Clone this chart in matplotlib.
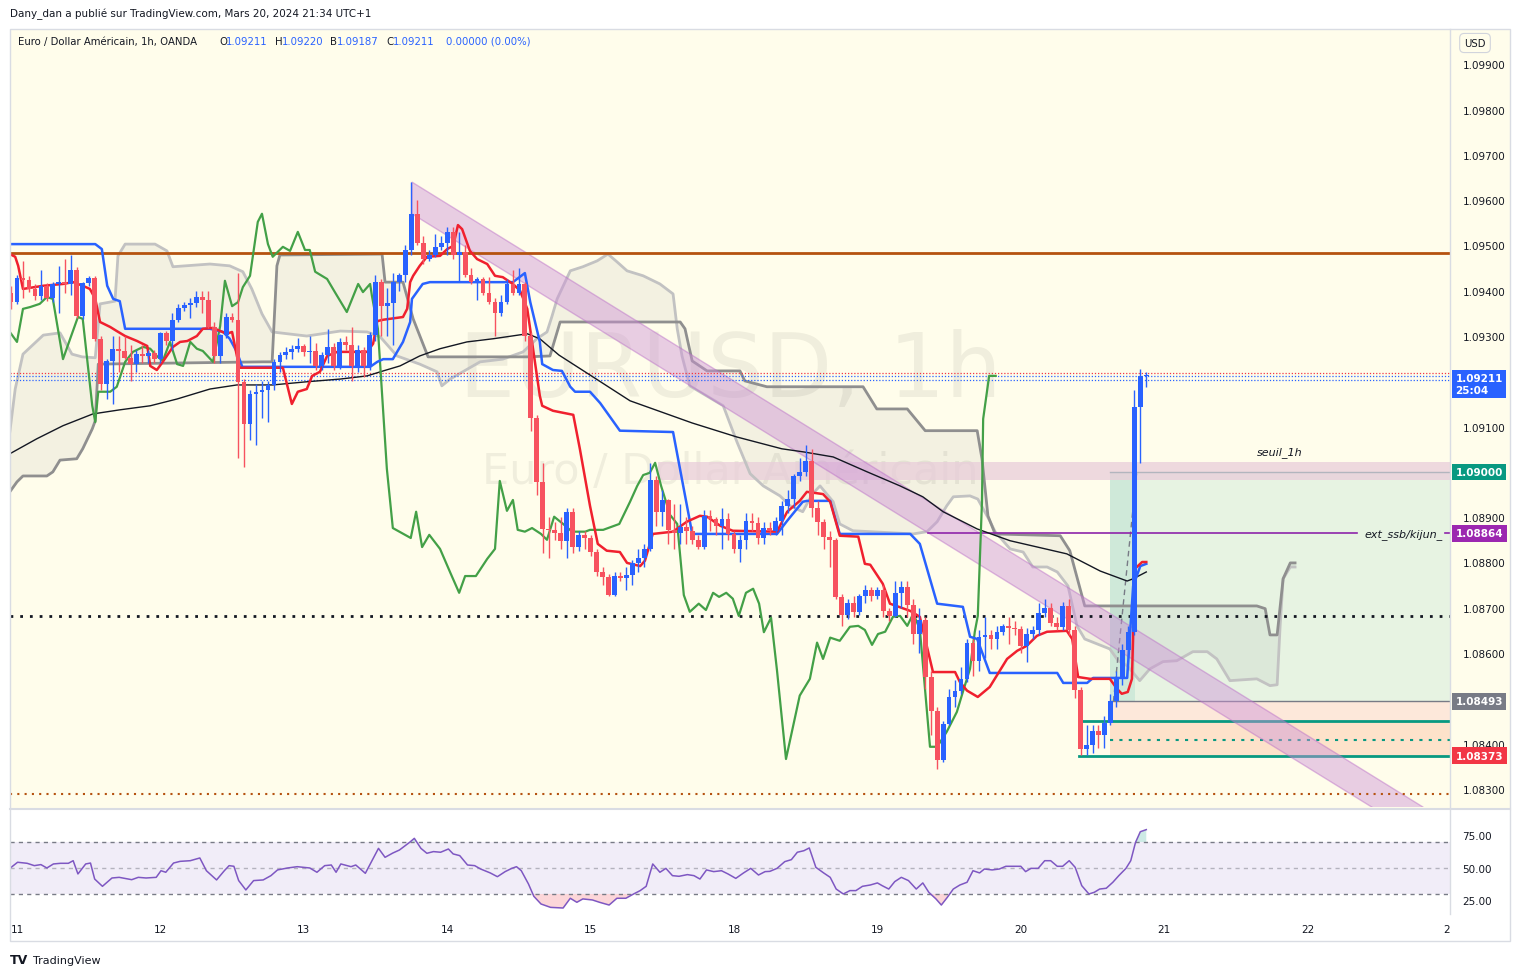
import matplotlib
matplotlib.use('Agg')
import matplotlib.pyplot as plt
import numpy as np
from matplotlib.patches import Rectangle, Polygon
from matplotlib.lines import Line2D

# ---------------- DATA ----------------
bars = list(range(-1, 190))
opens = [1.09395,
 1.09375,1.09428,1.09424,1.09404,1.09388,1.09410,1.09384,1.09415,1.09419,1.09416,
 1.09446,1.09344,1.09417,1.09428,1.09294,1.09194,1.09245,1.09272,1.09266,1.09252,
 1.09238,1.09260,1.09255,1.09262,1.09249,1.09307,1.09290,1.09336,1.09362,1.09368,
 1.09372,1.09386,1.09380,1.09320,1.09256,1.09302,1.09342,1.09336,1.09199,1.09106,
 1.09172,1.09176,1.09180,1.09192,1.09243,1.09258,1.09265,1.09272,1.09278,1.09265,
 1.09268,1.09234,1.09258,1.09275,1.09234,1.09287,1.09280,1.09234,1.09270,1.09234,
 1.09303,1.09419,1.09366,1.09372,1.09419,1.09435,1.09490,1.09570,1.09505,1.09470,
 1.09480,1.09497,1.09505,1.09530,1.09480,1.09485,1.09435,1.09420,1.09425,1.09395,
 1.09375,1.09350,1.09375,1.09415,1.09395,1.09415,1.09300,1.09119,1.08978,1.08874,
 1.08872,1.08866,1.08848,1.08912,1.08834,1.08860,1.08853,1.08823,1.08780,1.08768,
 1.08728,1.08770,1.08765,1.08772,1.08799,1.08810,1.08830,1.08982,1.08912,1.08938,
 1.08872,1.08866,1.08878,1.08870,1.08850,1.08834,1.08903,1.08895,1.08880,1.08895,
 1.08863,1.08830,1.08850,1.08892,1.08888,1.08853,1.08875,1.08870,1.08892,1.08925,
 1.08940,1.08991,1.09000,1.09025,1.08920,1.08890,1.08856,1.08850,1.08724,1.08684,
 1.08710,1.08690,1.08726,1.08740,1.08725,1.08740,1.08693,1.08682,1.08733,1.08745,
 1.08706,1.08642,1.08673,1.08548,1.08473,1.08364,1.08444,1.08503,1.08516,1.08543,
 1.08622,1.08583,1.08636,1.08640,1.08632,1.08647,1.08660,1.08656,1.08652,1.08616,
 1.08642,1.08650,1.08689,1.08700,1.08667,1.08658,1.08704,1.08651,1.08519,1.08388,
 1.08397,1.08428,1.08420,1.08446,1.08494,1.08543,1.08607,1.08647,1.09143,1.09211]
closes = [1.09375,
 1.09428,1.09424,1.09404,1.09388,1.09410,1.09384,1.09415,1.09419,1.09416,1.09446,
 1.09344,1.09417,1.09428,1.09294,1.09194,1.09245,1.09272,1.09266,1.09252,1.09238,
 1.09260,1.09255,1.09262,1.09249,1.09307,1.09290,1.09336,1.09362,1.09368,1.09372,
 1.09386,1.09380,1.09320,1.09256,1.09302,1.09342,1.09336,1.09199,1.09106,1.09172,
 1.09176,1.09180,1.09192,1.09243,1.09258,1.09265,1.09272,1.09278,1.09265,1.09268,
 1.09234,1.09258,1.09275,1.09234,1.09287,1.09280,1.09234,1.09270,1.09234,1.09303,
 1.09419,1.09366,1.09372,1.09419,1.09435,1.09490,1.09570,1.09505,1.09470,1.09480,
 1.09497,1.09505,1.09530,1.09480,1.09485,1.09435,1.09420,1.09425,1.09395,1.09375,
 1.09350,1.09375,1.09415,1.09395,1.09415,1.09300,1.09119,1.08978,1.08874,1.08872,
 1.08866,1.08848,1.08912,1.08834,1.08860,1.08853,1.08823,1.08780,1.08768,1.08728,
 1.08770,1.08765,1.08772,1.08799,1.08810,1.08830,1.08982,1.08912,1.08938,1.08872,
 1.08866,1.08878,1.08870,1.08850,1.08834,1.08903,1.08895,1.08880,1.08895,1.08863,
 1.08830,1.08850,1.08892,1.08888,1.08853,1.08875,1.08870,1.08892,1.08925,1.08940,
 1.08991,1.09000,1.09025,1.08920,1.08890,1.08856,1.08850,1.08724,1.08684,1.08710,
 1.08690,1.08726,1.08740,1.08725,1.08740,1.08693,1.08682,1.08733,1.08745,1.08706,
 1.08642,1.08673,1.08548,1.08473,1.08364,1.08444,1.08503,1.08516,1.08543,1.08622,
 1.08583,1.08636,1.08640,1.08632,1.08647,1.08660,1.08656,1.08652,1.08616,1.08642,
 1.08650,1.08689,1.08700,1.08667,1.08658,1.08704,1.08651,1.08519,1.08388,1.08397,
 1.08428,1.08420,1.08446,1.08494,1.08543,1.08607,1.08647,1.09143,1.09211,1.09211]
highs = [1.09410,
 1.09435,1.09465,1.09432,1.09415,1.09445,1.09418,1.09420,1.09455,1.09470,1.09480,
 1.09452,1.09420,1.09432,1.09432,1.09300,1.09250,1.09300,1.09300,1.09300,1.09280,
 1.09270,1.09280,1.09270,1.09270,1.09310,1.09312,1.09350,1.09370,1.09375,1.09385,
 1.09400,1.09400,1.09400,1.09330,1.09305,1.09350,1.09350,1.09440,1.09205,1.09180,
 1.09195,1.09200,1.09200,1.09250,1.09265,1.09275,1.09280,1.09295,1.09282,1.09300,
 1.09285,1.09265,1.09315,1.09285,1.09295,1.09300,1.09320,1.09280,1.09275,1.09310,
 1.09435,1.09425,1.09405,1.09440,1.09440,1.09500,1.09640,1.09600,1.09520,1.09490,
 1.09525,1.09520,1.09540,1.09540,1.09530,1.09500,1.09450,1.09430,1.09430,1.09430,
 1.09385,1.09390,1.09425,1.09445,1.09450,1.09420,1.09310,1.09125,1.09020,1.08900,
 1.08890,1.08900,1.08920,1.08920,1.08870,1.08870,1.08860,1.08830,1.08790,1.08775,
 1.08780,1.08780,1.08790,1.08805,1.08830,1.08840,1.09020,1.08990,1.08960,1.08940,
 1.08930,1.08930,1.08900,1.08880,1.08860,1.08915,1.08915,1.08900,1.08920,1.08910,
 1.08870,1.08860,1.08910,1.08910,1.08900,1.08890,1.08890,1.08900,1.08935,1.08960,
 1.08995,1.09030,1.09060,1.09050,1.08935,1.08895,1.08870,1.08855,1.08730,1.08720,
 1.08725,1.08730,1.08750,1.08745,1.08745,1.08750,1.08700,1.08760,1.08760,1.08760,
 1.08720,1.08700,1.08680,1.08560,1.08480,1.08450,1.08520,1.08540,1.08570,1.08630,
 1.08630,1.08650,1.08680,1.08650,1.08660,1.08665,1.08680,1.08670,1.08660,1.08655,
 1.08660,1.08710,1.08720,1.08710,1.08680,1.08712,1.08720,1.08660,1.08525,1.08440,
 1.08440,1.08440,1.08460,1.08510,1.08560,1.08620,1.08660,1.09180,1.09228,1.09220]
lows = [1.09360,
 1.09370,1.09385,1.09398,1.09380,1.09380,1.09378,1.09375,1.09350,1.09395,1.09390,
 1.09340,1.09338,1.09410,1.09290,1.09180,1.09160,1.09150,1.09220,1.09250,1.09200,
 1.09220,1.09240,1.09240,1.09240,1.09240,1.09280,1.09270,1.09330,1.09355,1.09340,
 1.09365,1.09350,1.09318,1.09240,1.09240,1.09295,1.09330,1.09030,1.09010,1.09070,
 1.09060,1.09120,1.09110,1.09180,1.09220,1.09250,1.09250,1.09265,1.09255,1.09240,
 1.09225,1.09225,1.09240,1.09225,1.09228,1.09270,1.09200,1.09220,1.09210,1.09225,
 1.09290,1.09300,1.09300,1.09280,1.09400,1.09420,1.09480,1.09500,1.09460,1.09465,
 1.09475,1.09490,1.09480,1.09470,1.09420,1.09430,1.09415,1.09380,1.09390,1.09370,
 1.09300,1.09345,1.09370,1.09390,1.09390,1.09290,1.09090,1.08950,1.08820,1.08810,
 1.08850,1.08830,1.08810,1.08820,1.08825,1.08830,1.08815,1.08770,1.08750,1.08725,
 1.08725,1.08760,1.08740,1.08750,1.08780,1.08790,1.08825,1.08880,1.08880,1.08840,
 1.08830,1.08840,1.08840,1.08840,1.08830,1.08830,1.08870,1.08860,1.08830,1.08850,
 1.08820,1.08800,1.08830,1.08870,1.08840,1.08840,1.08860,1.08860,1.08860,1.08910,
 1.08920,1.08980,1.08990,1.08900,1.08860,1.08830,1.08790,1.08720,1.08660,1.08675,
 1.08680,1.08685,1.08710,1.08715,1.08720,1.08680,1.08670,1.08680,1.08700,1.08680,
 1.08620,1.08600,1.08520,1.08420,1.08345,1.08360,1.08440,1.08480,1.08510,1.08535,
 1.08550,1.08560,1.08590,1.08610,1.08610,1.08640,1.08620,1.08640,1.08600,1.08580,
 1.08630,1.08640,1.08680,1.08660,1.08650,1.08650,1.08640,1.08500,1.08375,1.08375,
 1.08380,1.08390,1.08390,1.08440,1.08480,1.08530,1.08590,1.08640,1.09020,1.09187]

# long moving average (black)
ma_x = [-1.2,3.3,7.7,12.7,17.2,22.3,26.8,32.3,36.8,42.8,48.5,54.1,58.6,61.3,64.1,67.4,70.8,75.3,79.7,85.4,87.5,90.7,96.6,102.6,113.0,120.5,128.0,131.7,136.6,142.3,147.8,151.6,155.0,160.7,166.2,175.7,181.3,185.8,186.8,189]
ma_y = [1.09040,1.09073,1.09102,1.09128,1.09137,1.09146,1.09161,1.09183,1.09192,1.09192,1.09199,1.09205,1.09212,1.09223,1.09234,1.09256,1.09272,1.09287,1.09294,1.09305,1.09294,1.09258,1.09208,1.09157,1.09108,1.09077,1.09051,1.09044,1.09033,1.09000,1.08969,1.08945,1.08912,1.08874,1.08848,1.08819,1.08781,1.08759,1.08764,1.08779]

# kijun (blue)
kijun_x = [-1.2,13.1,14.2,15.1,16.1,17.2,18.1,32.3,34.5,35.6,36.8,37.7,59.1,60.3,61.3,62.9,64.6,65.8,66.1,67.9,69.1,83.0,85.0,85.9,87.5,87.9,89.7,91.2,92.6,93.4,95.9,97.6,98.9,100.9,109.8,112.6,113.0,127.2,128.9,131.5,132.2,136.1,137.7,149.5,151.1,154.0,158.3,159.5,160.7,162.8,174.1,175.1,179.1,180.1,185.8,186.8,188.0,189]
kijun_y = [1.09503,1.09503,1.09492,1.09411,1.09382,1.09377,1.09316,1.09316,1.09309,1.09294,1.09265,1.09232,1.09232,1.09243,1.09249,1.09249,1.09287,1.09331,1.09382,1.09415,1.09419,1.09419,1.09439,1.09375,1.09287,1.09238,1.09225,1.09223,1.09188,1.09177,1.09177,1.09152,1.09128,1.09091,1.09088,1.08892,1.08863,1.08863,1.08892,1.08934,1.08936,1.08936,1.08863,1.08863,1.08841,1.08709,1.08702,1.08636,1.08631,1.08556,1.08556,1.08534,1.08534,1.08545,1.08545,1.08748,1.08792,1.08797]

# tenkan (red)
tenkan_x = [-1.2,-0.3,0.2,1.0,4.4,7.7,9.4,11.0,12.2,13.1,13.9,15.6,16.7,18.1,20.1,21.8,22.3,23.4,24.4,26.1,27.3,28.5,30.1,31.1,32.8,35.1,36.0,36.8,37.3,44.5,46.0,47.0,48.5,49.4,50.7,51.9,53.6,58.6,59.6,60.3,61.3,64.6,65.3,65.8,66.3,67.4,68.6,70.8,72.0,73.0,73.8,74.5,75.8,77.0,78.7,80.0,81.3,83.0,84.2,85.4,86.2,87.5,87.9,89.7,93.1,94.2,95.9,97.2,98.7,100.9,102.1,104.3,105.1,106.4,109.8,112.1,114.3,115.5,117.7,119.8,127.2,128.9,131.0,132.2,134.9,136.1,137.7,140.8,141.9,142.8,144.9,146.1,149.5,151.1,153.3,157.0,157.8,159.0,160.8,162.8,165.7,167.4,169.0,170.7,172.4,175.7,176.6,177.6,179.6,182.9,184.1,184.9,185.9,186.6,187.1,188.3,189]
tenkan_y = [1.09481,1.09475,1.09455,1.09404,1.09411,1.09415,1.09419,1.09411,1.09404,1.09382,1.09331,1.09320,1.09311,1.09300,1.09289,1.09278,1.09234,1.09225,1.09243,1.09276,1.09287,1.09289,1.09300,1.09316,1.09318,1.09305,1.09309,1.09256,1.09230,1.09230,1.09150,1.09177,1.09183,1.09212,1.09221,1.09256,1.09265,1.09265,1.09283,1.09333,1.09336,1.09342,1.09360,1.09419,1.09433,1.09455,1.09475,1.09477,1.09492,1.09499,1.09545,1.09536,1.09488,1.09470,1.09459,1.09433,1.09430,1.09415,1.09400,1.09360,1.09287,1.09168,1.09146,1.09135,1.09126,1.09051,1.08925,1.08841,1.08826,1.08823,1.08799,1.08792,1.08804,1.08863,1.08868,1.08890,1.08903,1.08901,1.08881,1.08870,1.08868,1.08912,1.08936,1.08956,1.08951,1.08934,1.08859,1.08857,1.08797,1.08795,1.08753,1.08709,1.08693,1.08680,1.08558,1.08558,1.08536,1.08517,1.08503,1.08525,1.08587,1.08605,1.08616,1.08638,1.08647,1.08649,1.08631,1.08547,1.08543,1.08543,1.08521,1.08510,1.08514,1.08543,1.08786,1.08801,1.08801]

# chikou (green)
chikou_x = [-1.2,0,1.0,2.2,3.8,5.0,6.0,7.7,8.9,10.2,11.0,12.6,13.1,13.6,15.6,16.7,18.1,19.4,21.1,22.3,23.4,24.4,25.6,26.8,27.8,29.0,30.1,31.1,32.8,34.0,34.8,36.0,37.0,37.8,39.0,40.3,41.0,42.0,42.8,44.5,45.7,47.0,48.2,49.0,49.9,51.9,53.2,55.2,57.1,57.9,59.1,59.4,60.4,61.9,62.9,65.9,66.8,67.8,69.0,70.8,72.6,74.0,75.0,76.8,78.7,80.0,80.8,82.0,83.0,83.8,85.0,86.2,87.7,88.7,89.9,91.4,92.9,95.1,95.9,98.1,100.8,102.6,103.8,104.8,105.9,106.8,107.8,109.3,110.5,111.6,112.6,114.1,115.3,116.5,117.5,118.7,119.8,120.8,122.0,123.2,124.2,125.0,126.2,127.2,128.7,131.0,132.7,133.9,134.9,136.1,137.7,139.4,140.8,141.9,143.1,144.1,145.3,146.6,147.8,149.0,150.0,151.1,152.8,154.0,155.6,157.3,158.3,159.5,160.3,160.8,161.2,161.5,161.7,162.7,163.8]
chikou_y = [1.09309,1.09287,1.09360,1.09364,1.09371,1.09386,1.09382,1.09249,1.09294,1.09342,1.09338,1.09146,1.09110,1.09177,1.09177,1.09188,1.09243,1.09265,1.09276,1.09272,1.09256,1.09245,1.09287,1.09238,1.09234,1.09287,1.09272,1.09267,1.09243,1.09322,1.09422,1.09366,1.09375,1.09408,1.09433,1.09552,1.09570,1.09503,1.09475,1.09497,1.09488,1.09530,1.09490,1.09490,1.09442,1.09426,1.09397,1.09353,1.09415,1.09397,1.09415,1.09389,1.09316,1.09007,1.08876,1.08854,1.08912,1.08834,1.08861,1.08830,1.08775,1.08733,1.08770,1.08770,1.08808,1.08830,1.08980,1.08914,1.08938,1.08872,1.08868,1.08876,1.08863,1.08850,1.08901,1.08885,1.08868,1.08868,1.08872,1.08872,1.08885,1.08934,1.08969,1.08993,1.08998,1.09020,1.08969,1.08905,1.08885,1.08728,1.08691,1.08709,1.08695,1.08733,1.08724,1.08733,1.08720,1.08682,1.08733,1.08742,1.08709,1.08646,1.08678,1.08561,1.08366,1.08506,1.08543,1.08623,1.08587,1.08634,1.08627,1.08658,1.08660,1.08651,1.08618,1.08642,1.08647,1.08680,1.08682,1.08660,1.08687,1.08653,1.08393,1.08393,1.08426,1.08470,1.08514,1.08565,1.08647,1.08682,1.08823,1.08934,1.09117,1.09212,1.09212]

# senkou span A (light grey)
spanA_x = [-1.2,-0.3,1.0,4.4,7.2,9.2,10.9,13.1,13.9,16.4,16.9,18.1,23.1,25.1,26.1,32.3,35.6,37.8,39.3,41.0,42.7,48.5,54.1,58.6,60.8,63.6,67.4,70.3,71.1,72.5,77.5,81.3,84.7,87.0,88.7,89.5,90.4,92.6,94.7,97.1,98.9,100.4,102.1,104.8,107.6,109.8,110.5,111.3,112.6,118.2,120.5,122.7,124.9,127.7,129.4,131.5,133.1,134.4,136.6,137.7,139.9,150.0,152.3,154.0,155.6,156.7,159.5,160.8,162.8,163.7,166.2,168.4,170.0,172.4,174.1,175.9,177.4,178.7,182.9,184.3,185.8,187.9,189.6,191.8,194.1,196.8,199.2,200.8,203.0,207.5,209.7,210.9,211.4,211.9,213.1,213.9]
spanA_y = [1.09088,1.09183,1.09260,1.09302,1.09307,1.09260,1.09254,1.09252,1.09371,1.09377,1.09477,1.09503,1.09503,1.09488,1.09453,1.09459,1.09455,1.09442,1.09404,1.09349,1.09309,1.09300,1.09311,1.09309,1.09298,1.09256,1.09238,1.09221,1.09190,1.09205,1.09243,1.09249,1.09265,1.09294,1.09309,1.09342,1.09382,1.09444,1.09453,1.09466,1.09481,1.09464,1.09444,1.09433,1.09415,1.09393,1.09316,1.09256,1.09190,1.09146,1.09066,1.08996,1.08969,1.08947,1.08925,1.08912,1.08951,1.08969,1.08934,1.08885,1.08870,1.08863,1.08868,1.08890,1.08925,1.08945,1.08947,1.08940,1.08892,1.08868,1.08830,1.08823,1.08790,1.08790,1.08779,1.08748,1.08660,1.08631,1.08609,1.08583,1.08572,1.08539,1.08565,1.08581,1.08583,1.08603,1.08603,1.08587,1.08539,1.08543,1.08528,1.08530,1.08660,1.08764,1.08790,1.08790]

# senkou span B (dark grey)
spanB_x = [-1.2,0,1.0,5.0,6.0,7.2,10.0,11.0,12.6,13.1,13.6,41.2,42.7,43.5,44.0,61.1,61.6,64.6,66.3,68.8,85.4,89.2,90.9,111.0,111.8,113.0,115.5,121.0,121.8,125.5,141.6,143.9,149.0,152.0,160.7,161.5,162.5,163.7,174.6,176.2,178.7,207.5,208.9,209.7,210.9,211.9,213.1,213.9]
spanB_y = [1.08956,1.08978,1.08991,1.08991,1.09000,1.09026,1.09029,1.09051,1.09095,1.09113,1.09238,1.09243,1.09243,1.09455,1.09479,1.09481,1.09419,1.09419,1.09338,1.09254,1.09254,1.09256,1.09331,1.09331,1.09316,1.09245,1.09223,1.09223,1.09201,1.09188,1.09188,1.09139,1.09139,1.09091,1.09091,1.09029,1.08903,1.08863,1.08859,1.08826,1.08704,1.08704,1.08698,1.08640,1.08640,1.08764,1.08799,1.08799]

# RSI
rsi_x = [-1.2,0.1,1.7,2.9,4.0,5.0,6.1,7.3,8.6,9.4,10.2,11.5,12.3,13.0,14.3,15.9,17.1,19.2,20.3,21.6,23.3,24.1,24.9,26.2,27.3,29.0,30.6,31.7,33.4,34.7,35.5,36.3,37.1,38.3,39.6,41.2,42.5,43.6,45.3,46.9,49.0,50.2,51.5,52.6,53.4,54.2,55.9,56.7,58.3,60.5,61.6,62.9,64.0,65.7,66.5,67.6,68.6,69.7,70.9,72.2,73.0,74.1,75.4,76.6,77.6,79.2,80.4,81.7,82.8,83.6,84.4,85.6,86.5,87.7,89.3,91.4,92.6,93.7,94.7,96.3,97.5,99.1,100.4,101.9,103.2,104.3,105.3,106.4,107.6,108.6,109.7,110.8,112.2,113.3,114.3,115.4,116.6,117.9,119.0,120.3,121.6,122.8,124.1,125.2,126.0,127.2,128.5,129.6,130.6,131.7,132.6,133.7,135.0,136.1,137.1,138.3,139.4,140.4,141.5,142.8,144.0,144.8,145.9,146.9,148.0,149.2,150.5,151.6,152.6,153.8,154.7,155.7,156.7,157.8,159.0,160.0,161.1,161.9,163.2,164.4,165.5,166.8,168.0,168.8,169.7,170.9,172.0,173.0,174.1,175.0,176.1,177.1,178.2,179.4,180.3,181.2,182.3,183.4,184.4,185.6,186.4,187.2,188.0,189]
rsi_y = [49.7,54.4,53.6,51.8,52.6,50.0,53.1,53.6,53.6,55.6,45.4,53.1,53.8,41.5,35.9,42.3,42.8,41.0,42.8,42.3,42.8,47.9,46.7,53.8,55.1,55.6,57.7,47.9,40.8,47.9,51.8,51.3,40.3,33.1,40.3,40.8,44.1,48.5,50.0,51.0,50.0,46.7,51.8,52.3,46.7,53.1,51.0,52.3,45.9,65.1,58.2,61.5,63.8,69.7,72.8,65.1,61.3,62.6,62.1,64.6,60.8,59.5,52.3,51.8,49.2,46.2,43.3,47.2,49.7,51.0,47.9,37.7,28.2,22.3,19.7,19.2,26.7,23.6,26.2,25.4,23.6,21.5,26.7,26.7,30.0,32.6,35.9,53.1,46.7,49.7,44.1,43.6,44.9,44.1,41.5,48.5,47.2,47.9,45.4,42.0,46.2,49.7,44.6,47.2,47.4,49.7,54.9,56.4,62.1,63.3,65.4,50.5,46.2,42.8,33.8,30.0,32.6,32.6,35.9,36.9,38.5,36.4,33.8,39.5,42.8,40.3,33.8,38.5,31.3,26.2,21.5,27.4,33.8,36.9,39.0,47.9,46.2,49.2,48.5,49.2,51.3,51.3,51.3,47.2,49.7,49.7,55.6,55.6,51.3,51.3,55.6,50.5,36.4,30.0,31.3,33.8,34.4,39.0,44.1,49.7,55.6,69.7,77.9,79.5]

# drawings / levels
channel_x = [66.1, 235.3]
channel_top = [1.09640, 1.08260]
channel_bot = [1.09570, 1.08190]
level_resistance = 1.09483
level_dotted_black = 1.08682
level_dotted_brown = 1.08289
seuil_low, seuil_high, seuil_start = 1.08982, 1.09022, 107.3
ext_level, ext_start = 1.08864, 152.5
pos_start, pos_shade_end = 182.9, 187.1
pos_target, pos_entry, pos_stop = 1.09000, 1.08493, 1.08373
zone_top, zone_mid = 1.08450, 1.08408
last_price, last_high, last_low = 1.09211, 1.09218, 1.09203

price_ticks = [1.099, 1.098, 1.097, 1.096, 1.095, 1.094, 1.093, 1.091, 1.089, 1.088, 1.087, 1.086, 1.084, 1.083]
day_pos = [0, 24, 48, 72, 96, 120, 144, 168, 192, 216, 239.3]
day_labels = ['11', '12', '13', '14', '15', '18', '19', '20', '21', '22', '2']

# ---------------- FIGURE ----------------
W, H = 1521, 979
fig = plt.figure(figsize=(W / 100, H / 100), dpi=100)
fig.patch.set_facecolor('white')
BG = '#fffdeb'
TXT = '#131722'

def fr(x0, y0, x1, y1):
    return (x0 / W, 1 - y1 / H), (x1 - x0) / W, (y1 - y0) / H

xy, w, h = fr(10, 30, 1510, 810)
fig.add_artist(Rectangle(xy, w, h, transform=fig.transFigure, fc=BG, ec='none', zorder=0))

ax = fig.add_axes([10 / W, 1 - 808 / H, 1440 / W, 778 / H])
ax2 = fig.add_axes([10 / W, 1 - 915 / H, 1440 / W, 104 / H])
ax.set_facecolor(BG)
ax2.set_facecolor('white')
for a in (ax, ax2):
    for s in a.spines.values():
        s.set_visible(False)
    a.set_xlim(-1.17, 239.83)
ax.set_ylim(1.08260, 1.09978)
ax2.set_ylim(14.6, 94.6)

# frame lines
fig.add_artist(Rectangle((10 / W, 1 - 942 / H), 1500 / W, 912 / H, transform=fig.transFigure,
                         fill=False, ec='#d9dce3', lw=1, zorder=10))
fig.add_artist(Line2D([1450 / W, 1450 / W], [1 - 30 / H, 1 - 915 / H], transform=fig.transFigure,
                      color='#d9dce3', lw=1, zorder=10))
fig.add_artist(Line2D([10 / W, 1510 / W], [1 - 810 / H, 1 - 810 / H], transform=fig.transFigure,
                      color='#d9dce3', lw=1.5, zorder=10))

# cloud
grid = np.linspace(-1.2, 213.9, 1500)
a_i = np.interp(grid, spanA_x, spanA_y)
b_i = np.interp(grid, spanB_x, spanB_y)
ax.fill_between(grid, a_i, b_i, color='#9e9e9e', alpha=0.12, lw=0, zorder=1)
ax.plot(spanA_x, spanA_y, color='#c2c2c2', lw=2, zorder=2)
ax.plot(spanB_x, spanB_y, color='#8f8f8f', lw=2, zorder=2)

# position tool
ax.axhspan(seuil_low, seuil_high, xmin=(seuil_start + 1.17) / 241, xmax=1, color='#e9cdda', alpha=0.75, lw=0, zorder=1.5)
ax.fill_between([pos_start, 245], pos_entry, pos_target, color='#26a69a', alpha=0.11, lw=0, zorder=1.2)
ax.fill_between([pos_start, pos_shade_end], pos_entry, pos_target, color='#26a69a', alpha=0.12, lw=0, zorder=1.2)
ax.fill_between([pos_start, 245], pos_stop, pos_entry, color='#f23645', alpha=0.10, lw=0, zorder=1.2)
ax.fill_between([pos_start, 245], pos_stop, zone_top, color='#ff9800', alpha=0.07, lw=0, zorder=1.2)
ax.plot([pos_start, 245], [pos_entry, pos_entry], color='#787b86', lw=1, zorder=2)
ax.plot([pos_start, 245], [pos_target, pos_target], color='#b2b5be', lw=1, zorder=2)
ax.plot([pos_start + 0.6, pos_shade_end + 0.3], [pos_entry, pos_target], color='#787b86', lw=1, ls=(0, (4, 3)), zorder=3)
ax.plot([178.2, 245], [zone_top, zone_top], color='#089981', lw=2, zorder=3)
ax.plot([177.7, 245], [pos_stop, pos_stop], color='#089981', lw=2, zorder=3)
ax.plot([pos_start, 245], [zone_mid, zone_mid], color='#089981', lw=1.5, ls=(0, (1.5, 3)), zorder=3)

# channel
ax.add_patch(Polygon([(channel_x[0], channel_top[0]), (channel_x[1], channel_top[1]),
                      (channel_x[1], channel_bot[1]), (channel_x[0], channel_bot[0])],
                     closed=True, fc='#ce93d8', alpha=0.45, ec='#b86bc7', lw=1, zorder=3))

# horizontal levels
ax.axhline(level_resistance, color='#b5520f', lw=2, zorder=3)
ax.axhline(level_dotted_black, color='#131722', lw=2, ls=(0, (1, 2.5)), zorder=3)
ax.axhline(level_dotted_brown, color='#b5520f', lw=1.5, ls=(0, (1, 2.5)), zorder=3)
ax.axhline(last_high, color='#f23645', lw=0.9, ls=(0, (1, 1.5)), zorder=3)
ax.axhline(last_price, color='#2962ff', lw=0.9, ls=(0, (1, 1.5)), zorder=3)
ax.axhline(last_low, color='#2962ff', lw=0.9, ls=(0, (1, 1.5)), zorder=3)
ax.plot([ext_start, 224.3], [ext_level, ext_level], color='#8e24aa', lw=1.2, zorder=3)
ax.plot([239.0, 240], [ext_level, ext_level], color='#8e24aa', lw=1.2, zorder=3)

# watermark
ax.text(0.5, 0.560, 'EURUSD, 1h', transform=ax.transAxes, ha='center', va='center',
        fontsize=64, color='#000000', alpha=0.06, zorder=1)
ax.text(0.5, 0.432, 'Euro / Dollar Américain', transform=ax.transAxes, ha='center', va='center',
        fontsize=31, color='#000000', alpha=0.06, zorder=1)

# indicator lines
ax.plot(ma_x, ma_y, color='#131722', lw=1, zorder=4)
ax.plot(chikou_x, chikou_y, color='#43a047', lw=1.6, zorder=4)
ax.plot(kijun_x, kijun_y, color='#2962ff', lw=1.8, zorder=4)
ax.plot(tenkan_x, tenkan_y, color='#f0202e', lw=1.8, zorder=4)

# candles
bx = np.array(bars)
o = np.array(opens); c = np.array(closes); hi = np.array(highs); lo = np.array(lows)
up = c >= o
cols = np.where(up, '#2962ff', '#f7525f')
ax.vlines(bx, lo, hi, colors=cols, lw=1, zorder=6)
ax.bar(bx, np.maximum(np.abs(c - o), 0.00002), bottom=np.minimum(o, c), width=0.8,
       color=cols, lw=0, zorder=7)

# texts inside chart
ax.text(211.4, 1.09046, 'seuil_1h', style='italic', fontsize=8, color=TXT, ha='center', va='center', zorder=8)
ax.text(238.6, ext_level, 'ext_ssb/kijun_', style='italic', fontsize=8, color=TXT, ha='right', va='center', zorder=8)

# price axis
ax.yaxis.tick_right()
ax.set_yticks(price_ticks)
ax.set_yticklabels([f'{t:.5f}' for t in price_ticks])
ax.tick_params(axis='y', length=0, pad=9, labelsize=7.5, labelcolor=TXT)
ax.set_xticks([])

def tag(price, text, fc):
    ax.annotate(text, xy=(1, price), xycoords=ax.get_yaxis_transform(), xytext=(4, 0),
                textcoords='offset points', ha='left', va='center', fontsize=7.5,
                color='white', fontweight='bold', linespacing=1.15, annotation_clip=False,
                bbox=dict(boxstyle='square,pad=0.32', fc=fc, ec='none'), zorder=20)

tag(1.09194, '1.09211\n25:04', '#2962ff')
tag(pos_target, '1.09000', '#089981')
tag(ext_level, '1.08864', '#9c27b0')
tag(pos_entry, '1.08493', '#787b86')
tag(pos_stop, '1.08373', '#f23645')

# RSI panel
ax2.axhspan(30, 70, color='#7e57c2', alpha=0.1, lw=0)
ax2.axhline(70, color='#787b86', lw=1, ls=(0, (3, 3)))
ax2.axhline(30, color='#787b86', lw=1, ls=(0, (3, 3)))
ax2.axhline(50, color='#787b86', lw=1, ls=(0, (3, 3)), alpha=0.5)
rx = np.array(rsi_x); ry = np.array(rsi_y)
ax2.fill_between(rx, ry, 30, where=ry < 30, interpolate=True, color='#f23645', alpha=0.2, lw=0)
ax2.fill_between(rx, ry, 70, where=ry > 70, interpolate=True, color='#089981', alpha=0.2, lw=0)
ax2.plot(rx, ry, color='#7e57c2', lw=1.1)
ax2.yaxis.tick_right()
ax2.set_yticks([75, 50, 25])
ax2.set_yticklabels(['75.00', '50.00', '25.00'])
ax2.tick_params(axis='y', length=0, pad=9, labelsize=7.5, labelcolor=TXT)
ax2.set_xticks(day_pos)
ax2.set_xticklabels(day_labels)
ax2.tick_params(axis='x', length=0, pad=7, labelsize=7.5, labelcolor=TXT)

# header texts
fig.text(10 / W, 1 - 14 / H, 'Dany_dan a publié sur TradingView.com, Mars 20, 2024 21:34 UTC+1',
         fontsize=7.5, color=TXT, va='center')
row_y = 1 - 42 / H
pieces = [(18, 'Euro / Dollar Américain, 1h, OANDA', TXT), (219, 'O', TXT), (226, '1.09211', '#2962ff'),
          (275, 'H', TXT), (282, '1.09220', '#2962ff'), (330, 'B', TXT), (337, '1.09187', '#2962ff'),
          (386, 'C', TXT), (393, '1.09211', '#2962ff'), (446, '0.00000 (0.00%)', '#2962ff')]
for px, s, col in pieces:
    fig.text(px / W, row_y, s, fontsize=7.3, color=col, va='center')
fig.text(1475 / W, 1 - 44 / H, 'USD', fontsize=7.3, color=TXT, va='center', ha='center',
         bbox=dict(boxstyle='round,pad=0.45', fc=BG, ec='#d1d4dc', lw=0.8))

# footer
fig.text(10 / W, 1 - 961 / H, 'TV', fontsize=9, fontweight='bold', color='#131722', va='center')
fig.text(33 / W, 1 - 961 / H, 'TradingView', fontsize=8, color='#131722', va='center')

fig.savefig('out.png', dpi=100, facecolor='white')
